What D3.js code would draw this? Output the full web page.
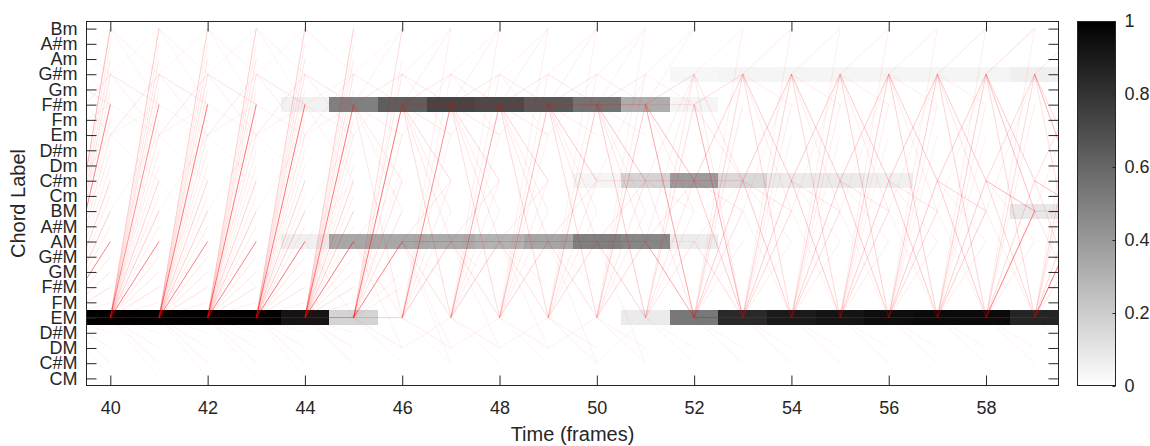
<!DOCTYPE html>
<html><head><meta charset="utf-8">
<script src="https://cdn.jsdelivr.net/npm/d3@7"></script>
<style>
body{margin:0;background:#fff}
text{font-family:"Liberation Sans",Arial,sans-serif;fill:#262626}
</style>
</head><body>
<svg id="chart" width="1150" height="446"></svg>
<script>
// ---- data ----
const states = ["CM","C#M","DM","D#M","EM","FM","F#M","GM","G#M","AM","A#M","BM",
                "Cm","C#m","Dm","D#m","Em","Fm","F#m","Gm","G#m","Am","A#m","Bm"];
const frames = [40,41,42,43,44,45,46,47,48,49,50,51,52,53,54,55,56,57,58,59];
const xTicks = [40,42,44,46,48,50,52,54,56,58];
const cbTicks = [0,0.2,0.4,0.6,0.8,1];

// posterior values per frame (rows not listed are 0)
const probEM  = [1.0,1.0,1.0,1.0,0.92,0.17,0,0,0,0,0,0.08,0.53,0.84,0.90,0.92,0.95,0.96,0.96,0.86];
const probAM  = [0,0,0,0,0.06,0.34,0.34,0.33,0.30,0.35,0.50,0.47,0.07,0,0,0,0,0,0,0];
const probFsm = [0,0,0,0,0.05,0.50,0.63,0.73,0.71,0.65,0.55,0.32,0.04,0,0,0,0,0,0,0];
const probCsm = [0,0,0,0,0,0,0,0,0,0,0.04,0.17,0.39,0.15,0.08,0.08,0.06,0,0,0];
const probGsm = [0,0,0,0,0,0,0,0,0,0,0,0,0.03,0.04,0.04,0.04,0.04,0.04,0.04,0.06];
const probBM  = [0,0,0,0,0,0,0,0,0,0,0,0,0,0,0,0,0,0,0,0.09];

// transitions drawn into each target frame: "source: target alpha target alpha ... | ..."
const edgeTargets = [40,41,42,43,44,45,46,47,48,49,50,51,52,53,54,55,56,57,58,59,60];
const edgeLists = [
 "EM: Bm .3 A#m .08 Am .1 G#m .12 Gm .07 F#m .5 Fm .07 Em .1 D#m .08 Dm .07 C#m .18 Cm .07 BM .2 A#M .08 AM .5 G#M .1 GM .1 F#M .12 FM .07 EM .4 D#M .05 DM .06 C#M .07 CM .04 | G#m: F#m .1 Em .07 Bm .05 | Em: G#m .1 F#m .06 C#m .05 | Bm: G#m .06 F#m .05 | BM: Em .05 | C#M: EM .05",
 "EM: Bm .22 A#m .08 Am .1 G#m .12 Gm .07 F#m .45 Fm .07 Em .1 D#m .08 Dm .07 C#m .18 Cm .07 BM .2 A#M .08 AM .5 G#M .1 GM .1 F#M .12 FM .07 EM .4 D#M .05 DM .06 C#M .07 CM .04 | G#m: F#m .1 Em .07 Bm .05 | Em: G#m .1 F#m .06 C#m .05 | Bm: G#m .06 F#m .05 | F#m: Em .05 | BM: Em .05 | F#M: BM .04",
 "EM: Bm .2 A#m .08 Am .1 G#m .12 Gm .07 F#m .55 Fm .07 Em .1 D#m .08 Dm .07 C#m .18 Cm .07 BM .2 A#M .08 AM .5 G#M .1 GM .1 F#M .12 FM .07 EM .4 D#M .05 DM .06 C#M .07 CM .04 | G#m: F#m .12 Em .07 Bm .05 | Em: G#m .1 F#m .06 C#m .05 | Bm: G#m .06 F#m .05 | F#m: Em .05 | C#m: AM .04 | BM: Em .05",
 "EM: Bm .2 A#m .08 Am .1 G#m .12 Gm .07 F#m .55 Fm .07 Em .1 D#m .08 Dm .07 C#m .18 Cm .07 BM .2 A#M .08 AM .5 G#M .1 GM .1 F#M .12 FM .07 EM .4 D#M .05 DM .06 C#M .07 CM .04 | G#m: F#m .12 Em .07 Bm .05 | Em: G#m .1 F#m .06 C#m .05 | Bm: G#m .06 F#m .05 | F#m: Em .05 | BM: Em .05 | AM: F#M .04",
 "EM: Bm .2 A#m .08 Am .1 G#m .12 Gm .07 F#m .55 Fm .07 Em .1 D#m .08 Dm .07 C#m .18 Cm .07 BM .2 A#M .08 AM .55 G#M .1 GM .1 F#M .12 FM .07 EM .4 D#M .05 DM .06 C#M .07 CM .04 | G#m: F#m .12 Em .07 Bm .05 | Em: G#m .1 F#m .06 C#m .05 | Bm: G#m .06 F#m .05 | F#m: Em .05 | BM: Em .05",
 "EM: Bm .2 A#m .07 Am .08 G#m .12 Gm .07 F#m .55 Fm .07 Em .1 D#m .07 Dm .07 C#m .18 Cm .07 BM .2 A#M .07 AM .55 G#M .08 GM .1 F#M .12 FM .07 EM .4 D#M .05 DM .07 C#M .07 | G#m: F#m .1 Em .07 | Em: G#m .08 F#m .06 | Bm: G#m .06 | F#m: Em .06 G#m .06 C#m .06 | AM: C#m .06 EM .06 | BM: Em .05",
 "EM: Bm .15 G#m .1 F#m .55 Em .1 C#m .12 BM .12 AM .5 GM .07 F#M .08 EM .2 DM .08 C#M .06 Am .06 Dm .05 | F#m: G#m .1 Em .08 C#m .1 Bm .06 EM .1 BM .07 | AM: C#m .07 F#M .06 EM .08 DM .06 | G#m: F#m .08 Bm .05 | Em: G#m .06",
 "EM: F#m .45 AM .2 G#m .07 Bm .07 C#m .08 BM .07 Em .06 DM .08 C#M .05 | F#m: Bm .07 G#m .1 F#m .2 Em .1 C#m .15 BM .08 AM .1 EM .15 | AM: C#m .1 AM .2 F#M .06 EM .12 DM .06 C#M .05 | G#m: F#m .1 Bm .06 Em .06 | DM: EM .06 | Em: G#m .06",
 "EM: F#m .35 AM .2 G#m .07 Bm .07 C#m .08 BM .07 Em .06 DM .08 C#M .05 | F#m: Bm .07 G#m .1 F#m .2 Em .1 C#m .15 BM .08 AM .1 EM .15 | AM: C#m .1 AM .2 F#M .06 EM .12 DM .06 | G#m: F#m .1 Bm .06 Em .06 | DM: EM .06 | Em: G#m .06",
 "EM: F#m .25 AM .18 G#m .07 Bm .07 C#m .08 BM .07 Em .06 DM .07 C#M .05 | F#m: Bm .07 G#m .1 F#m .2 Em .1 C#m .17 BM .08 AM .1 EM .16 | AM: C#m .1 AM .2 F#M .06 EM .12 DM .06 | G#m: F#m .1 Bm .06 Em .06 | DM: EM .06 | Em: G#m .06",
 "EM: F#m .22 AM .16 G#m .07 Bm .06 C#m .08 BM .07 DM .07 C#M .06 | F#m: Bm .07 G#m .1 F#m .2 Em .08 C#m .22 BM .08 AM .1 EM .16 | AM: C#m .1 AM .2 F#M .06 EM .12 C#M .06 | G#m: F#m .1 Bm .06 | DM: EM .06 | Em: G#m .06",
 "EM: F#m .2 AM .16 G#m .08 Bm .06 C#m .1 BM .07 DM .06 C#M .06 | F#m: Bm .06 G#m .1 F#m .2 Em .07 C#m .24 BM .08 AM .1 EM .2 | AM: C#m .1 AM .2 EM .18 C#M .06 | C#m: C#m .1 G#m .06 | G#m: F#m .08 Bm .06 | C#M: EM .05",
 "F#m: C#m .25 EM .35 G#m .14 F#m .1 Bm .06 BM .07 | AM: EM .35 C#m .1 AM .07 G#m .07 | C#m: C#m .14 G#m .08 EM .1 BM .07 | EM: F#m .14 AM .1 G#m .1 C#m .1 BM .07 C#M .05 DM .05 | G#m: Bm .06 F#m .06",
 "EM: C#m .2 G#m .16 BM .14 EM .4 F#m .1 AM .08 Bm .07 C#M .06 DM .05 | C#m: G#m .18 EM .2 C#m .14 BM .1 | F#m: EM .3 G#m .14 C#m .1 | AM: EM .14 C#m .07 | G#m: C#m .1 EM .1 Bm .06",
 "EM: G#m .18 C#m .2 BM .16 F#m .08 AM .08 Bm .07 Em .06 EM .4 C#M .06 DM .05 | G#m: C#m .2 EM .16 Bm .08 F#m .07 BM .08 | C#m: G#m .2 EM .2 BM .12 AM .07 | BM: EM .06 G#m .06",
 "EM: G#m .18 C#m .2 BM .16 F#m .08 AM .08 Bm .07 Em .06 EM .4 C#M .06 DM .05 | G#m: C#m .2 EM .16 Bm .08 F#m .07 BM .08 | C#m: G#m .2 EM .2 BM .12 AM .07 | BM: EM .06 G#m .06",
 "EM: G#m .2 C#m .2 BM .16 F#m .08 AM .08 Bm .07 Em .06 EM .4 C#M .06 DM .05 | G#m: C#m .2 EM .18 Bm .08 F#m .07 BM .08 | C#m: G#m .2 EM .2 BM .12 AM .07 | BM: EM .06 G#m .06",
 "EM: G#m .2 C#m .22 BM .16 F#m .08 AM .08 Bm .07 Em .06 EM .4 C#M .06 DM .05 | G#m: C#m .2 EM .18 Bm .08 F#m .07 BM .08 | C#m: G#m .2 EM .2 BM .12 AM .07 | BM: EM .06 G#m .06",
 "EM: G#m .2 C#m .2 BM .2 F#m .08 AM .08 Bm .08 Em .06 EM .4 C#M .06 DM .05 | G#m: C#m .2 EM .18 Bm .1 F#m .07 BM .1 | C#m: G#m .2 EM .2 BM .18 AM .07 | BM: EM .06 G#m .06",
 "EM: G#m .16 C#m .16 BM .5 F#m .08 AM .08 Bm .08 EM .4 C#M .06 DM .05 | G#m: C#m .2 EM .16 Bm .14 BM .25 | C#m: G#m .16 EM .16 BM .3 AM .07 | BM: EM .07 G#m .07",
 "EM: BM .55 G#m .16 C#m .16 F#m .1 AM .1 Bm .08 EM .4 C#M .06 | G#m: BM .3 C#m .16 EM .12 Bm .1 | C#m: BM .25 G#m .12 EM .12 | BM: EM .1 BM .15 G#m .07"
];

// ---- helpers ----
function parseEdges(str, t) {
  return str.split("|").flatMap(g => {
    const [src, rest] = g.split(":");
    const toks = rest.trim().split(/\s+/);
    const out = [];
    for (let i = 0; i < toks.length; i += 2)
      out.push({t: t, from: src.trim(), to: toks[i], a: +toks[i + 1]});
    return out;
  });
}
const edges = edgeTargets.flatMap((t, i) => parseEdges(edgeLists[i], t));
const rows = [
  {s: "EM", v: probEM}, {s: "AM", v: probAM}, {s: "F#m", v: probFsm},
  {s: "C#m", v: probCsm}, {s: "G#m", v: probGsm}, {s: "BM", v: probBM}
];
const cells = rows.flatMap(r => frames.map((f, i) => ({s: r.s, f: f, v: r.v[i]})))
                  .filter(d => d.v > 0);

// ---- layout ----
const L = 86, R = 1059, T = 21, B = 386;
const svg = d3.select("#chart");
const x = d3.scaleLinear().domain([39.5, 59.5]).range([L, R]);
const y = d3.scaleLinear().domain([0.5, 24.5]).range([B, T]);
const si = s => states.indexOf(s) + 1;
const gray = d3.scaleLinear().domain([0, 1]).range(["#ffffff", "#000000"]);

svg.append("defs").append("clipPath").attr("id", "plotclip")
  .append("rect").attr("x", L).attr("y", T).attr("width", R - L).attr("height", B - T);

const plot = svg.append("g").attr("clip-path", "url(#plotclip)");
plot.selectAll("rect.cell").data(cells).join("rect").attr("class", "cell")
  .attr("x", d => x(d.f - 0.5)).attr("width", d => x(d.f + 0.5) - x(d.f - 0.5))
  .attr("y", d => y(si(d.s) + 0.5)).attr("height", d => y(si(d.s) - 0.5) - y(si(d.s) + 0.5))
  .attr("fill", d => gray(d.v)).attr("shape-rendering", "crispEdges");

plot.selectAll("line.tr").data(edges).join("line").attr("class", "tr")
  .attr("x1", d => x(d.t - 1)).attr("y1", d => y(si(d.from)))
  .attr("x2", d => x(d.t)).attr("y2", d => y(si(d.to)))
  .attr("stroke", "#ff0000").attr("stroke-opacity", d => d.a).attr("stroke-width", 1);

// axes
const axisColor = "#262626";
const tickLen = 10;
svg.append("rect").attr("x", L + 0.5).attr("y", T + 0.5).attr("width", R - L - 1).attr("height", B - T - 1)
  .attr("fill", "none").attr("stroke", axisColor).attr("stroke-width", 1);

const xb = d3.axisBottom(x).tickValues(xTicks).tickSize(-tickLen).tickPadding(16).tickFormat(d3.format("d"));
const xt = d3.axisTop(x).tickValues(xTicks).tickSize(-tickLen).tickFormat("");
const yl = d3.axisLeft(y).tickValues(d3.range(1, 25)).tickSize(-tickLen).tickPadding(9).tickFormat(d => states[d - 1]);
const yr = d3.axisRight(y).tickValues(d3.range(1, 25)).tickSize(-tickLen).tickFormat("");

function styleAxis(size) {
  return g => {
    g.select(".domain").remove();
    g.selectAll(".tick line").attr("stroke", axisColor);
    g.selectAll(".tick text").attr("fill", axisColor).style("font-size", size + "px")
      .style("font-family", "'Liberation Sans', Arial, sans-serif");
  };
}
svg.append("g").attr("transform", `translate(0,${B - 0.5})`).call(xb).call(styleAxis(18));
svg.append("g").attr("transform", `translate(0,${T + 0.5})`).call(xt).call(styleAxis(18));
svg.append("g").attr("transform", `translate(${L + 0.5},0)`).call(yl).call(styleAxis(18));
svg.append("g").attr("transform", `translate(${R - 0.5},0)`).call(yr).call(styleAxis(18));

svg.append("text").attr("x", (L + R) / 2).attr("y", 441).attr("text-anchor", "middle")
  .style("font-size", "20px").text("Time (frames)");
svg.append("text").attr("transform", `translate(25,${(T + B) / 2}) rotate(-90)`).attr("text-anchor", "middle")
  .style("font-size", "20px").text("Chord Label");

// colorbar
const cbL = 1077, cbR = 1116;
const cy = d3.scaleLinear().domain([0, 1]).range([B, T]);
const grad = svg.select("defs").append("linearGradient").attr("id", "cbgrad")
  .attr("x1", 0).attr("y1", 1).attr("x2", 0).attr("y2", 0);
grad.append("stop").attr("offset", "0%").attr("stop-color", gray(0));
grad.append("stop").attr("offset", "100%").attr("stop-color", gray(1));
svg.append("rect").attr("x", cbL).attr("y", T).attr("width", cbR - cbL).attr("height", B - T)
  .attr("fill", "url(#cbgrad)");
const cbAxis = d3.axisRight(cy).tickValues(cbTicks).tickSize(-3).tickPadding(9)
  .tickFormat(d => d3.format("")(d));
svg.append("g").attr("transform", `translate(${cbR - 0.5},0)`).call(cbAxis).call(styleAxis(18));
svg.append("rect").attr("x", cbL + 0.5).attr("y", T + 0.5).attr("width", cbR - cbL - 1).attr("height", B - T - 1)
  .attr("fill", "none").attr("stroke", axisColor);
</script>
</body></html>
